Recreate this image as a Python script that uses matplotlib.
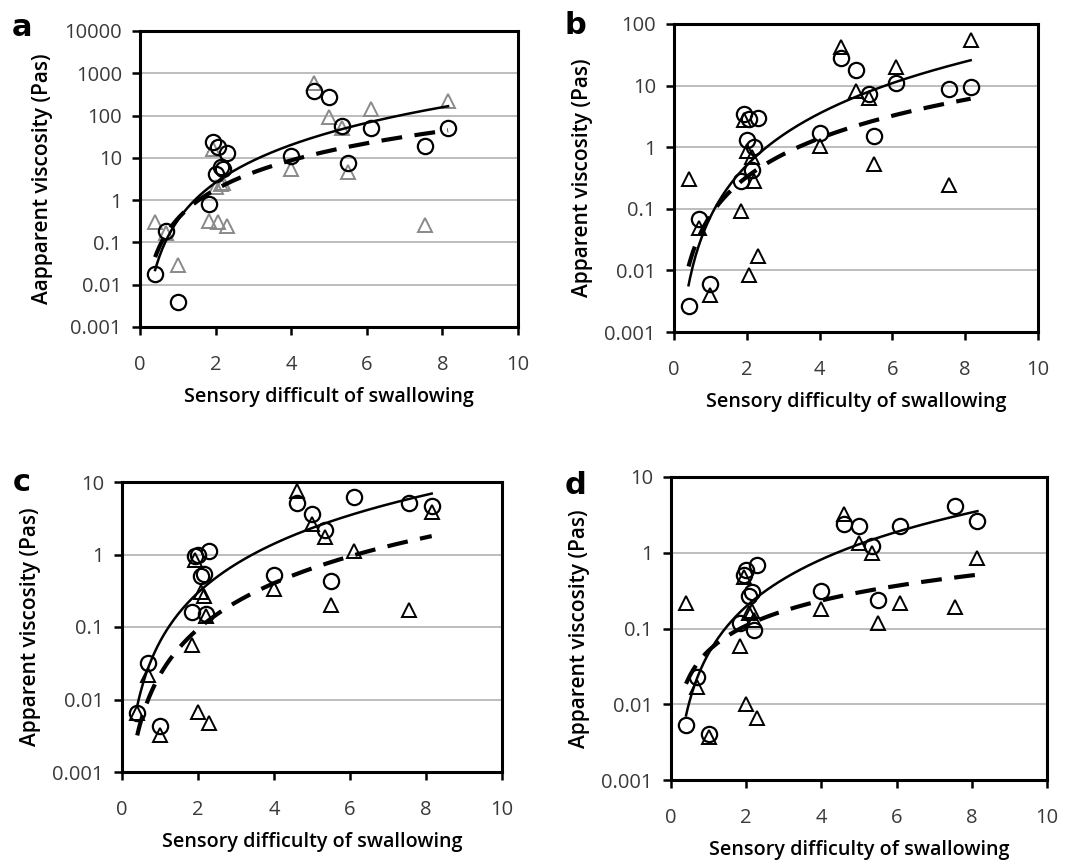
import numpy as np
import matplotlib
matplotlib.use('Agg')
import matplotlib.pyplot as plt

plt.rcParams['font.family'] = ['Open Sans', 'DejaVu Sans']

# sensory difficulty of swallowing (shared by all panels)
x_sens = [0.4, 0.68, 1.0, 1.83, 1.93, 2.0, 2.07, 2.15, 2.2, 2.3,
          4.0, 4.6, 5.0, 5.35, 5.5, 6.1, 7.55, 8.15]

# apparent viscosity (Pas), circles and triangles per panel
circ_a = [0.018, 0.19, 0.004, 0.8, 24, 4.1, 18, 6.2, 5.5, 13,
          11, 390, 280, 56, 7.4, 50, 19, 52]
tri_a = [0.3, 0.17, 0.03, 0.32, 16, 2.0, 0.3, 2.4, 2.6, 0.25,
         5.6, 580, 93, 50, 4.6, 140, 0.26, 220]
circ_b = [0.0026, 0.068, 0.006, 0.28, 3.5, 1.3, 2.9, 0.43, 1.0, 3.0,
          1.7, 28, 18, 7.2, 1.5, 11, 8.8, 9.6]
tri_b = [0.30, 0.048, 0.004, 0.093, 2.8, 0.87, 0.0085, 0.7, 0.28, 0.017,
         1.05, 43, 8.3, 6.3, 0.53, 20, 0.24, 55]
circ_c = [0.0066, 0.032, 0.0043, 0.16, 0.95, 1.0, 0.5, 0.54, 0.15, 1.12,
          0.52, 5.1, 3.6, 2.2, 0.43, 6.3, 5.2, 4.7]
tri_c = [0.0066, 0.022, 0.0032, 0.056, 0.83, 0.0068, 0.30, 0.27, 0.14, 0.0048,
         0.33, 7.5, 2.6, 1.75, 0.2, 1.1, 0.17, 3.9]
circ_d = [0.0053, 0.023, 0.0041, 0.12, 0.51, 0.59, 0.27, 0.30, 0.095, 0.69,
          0.31, 2.4, 2.25, 1.23, 0.24, 2.25, 4.1, 2.6]
tri_d = [0.22, 0.017, 0.0037, 0.059, 0.48, 0.01, 0.16, 0.17, 0.13, 0.0065,
         0.18, 3.2, 1.35, 1.0, 0.12, 0.22, 0.19, 0.84]

# power trendlines y = c * x^n (solid and dashed)
solid_c = [0.335, 0.074, 0.063, 0.047]
solid_n = [2.96, 2.79, 2.24, 2.06]
dash_c = [0.366, 0.078, 0.0219, 0.051]
dash_n = [2.29, 2.08, 2.10, 1.10]

letters = ['a', 'b', 'c', 'd']
ylabels = ['Aapparent viscosity (Pas)', 'Apparent viscosity (Pas)',
           'Apparent viscosity (Pas)', 'Apparent viscosity (Pas)']
xlabels = ['Sensory difficult of swallowing', 'Sensory difficulty of swallowing',
           'Sensory difficulty of swallowing', 'Sensory difficulty of swallowing']
ytop = [10000, 100, 10, 10]

W, H = 1086, 865
# axes boxes in pixels: left, right, top, bottom
boxes = [(140, 518, 31, 327), (674, 1038, 24, 332),
         (122, 502, 482, 772), (671, 1047, 477, 780)]
letter_pos = [(22, 27), (575, 25), (22, 482), (575, 485)]

fig = plt.figure(figsize=(W / 100, H / 100), dpi=100)

circles = [circ_a, circ_b, circ_c, circ_d]
triangles = [tri_a, tri_b, tri_c, tri_d]

for i in range(4):
    l, r, t, b = boxes[i]
    ax = fig.add_axes([l / W, 1 - b / H, (r - l) / W, (b - t) / H])
    ax.set_yscale('log')
    ax.set_xlim(0, 10)
    ax.set_ylim(0.001, ytop[i])
    ax.set_xticks([0, 2, 4, 6, 8, 10])
    decades = [10.0 ** k for k in range(-3, int(np.log10(ytop[i])) + 1)]
    ax.set_yticks(decades)
    ax.set_yticklabels(['{:g}'.format(v) for v in decades])
    ax.minorticks_off()
    ax.yaxis.grid(True, color='#b8b8b8', lw=1.3)
    ax.set_axisbelow(True)
    for s in ax.spines.values():
        s.set_linewidth(2.2)
    ax.tick_params(axis='both', direction='out', width=1.8, length=6,
                   labelsize=14.5, labelcolor='#3a3a3a')
    ax.tick_params(axis='x', pad=14)
    ax.tick_params(axis='y', pad=7)

    xs = np.array(x_sens)
    tri_col = '#8a8a8a' if i == 0 else 'black'
    ax.plot(xs, triangles[i], linestyle='none', marker='^', ms=10,
            mfc='none', mec=tri_col, mew=1.4, clip_on=False)
    ax.plot(xs, circles[i], linestyle='none', marker='o', ms=11,
            mfc='none', mec='black', mew=1.6, clip_on=False)

    xf = np.linspace(xs.min(), xs.max(), 200)
    ax.plot(xf, solid_c[i] * xf ** solid_n[i], color='black', lw=1.8)
    ax.plot(xf, dash_c[i] * xf ** dash_n[i], color='black', lw=3,
            dashes=(5, 3))

    ax.set_ylabel(ylabels[i], fontsize=15, fontweight='semibold', labelpad=8)
    ax.set_xlabel(xlabels[i], fontsize=14.2, fontweight='semibold', labelpad=9)
    lx, ly = letter_pos[i]
    fig.text(lx / W, 1 - ly / H, letters[i], fontsize=22, fontweight='bold',
             ha='center', va='center', family='DejaVu Sans')

fig.savefig('out.png', dpi=100)
